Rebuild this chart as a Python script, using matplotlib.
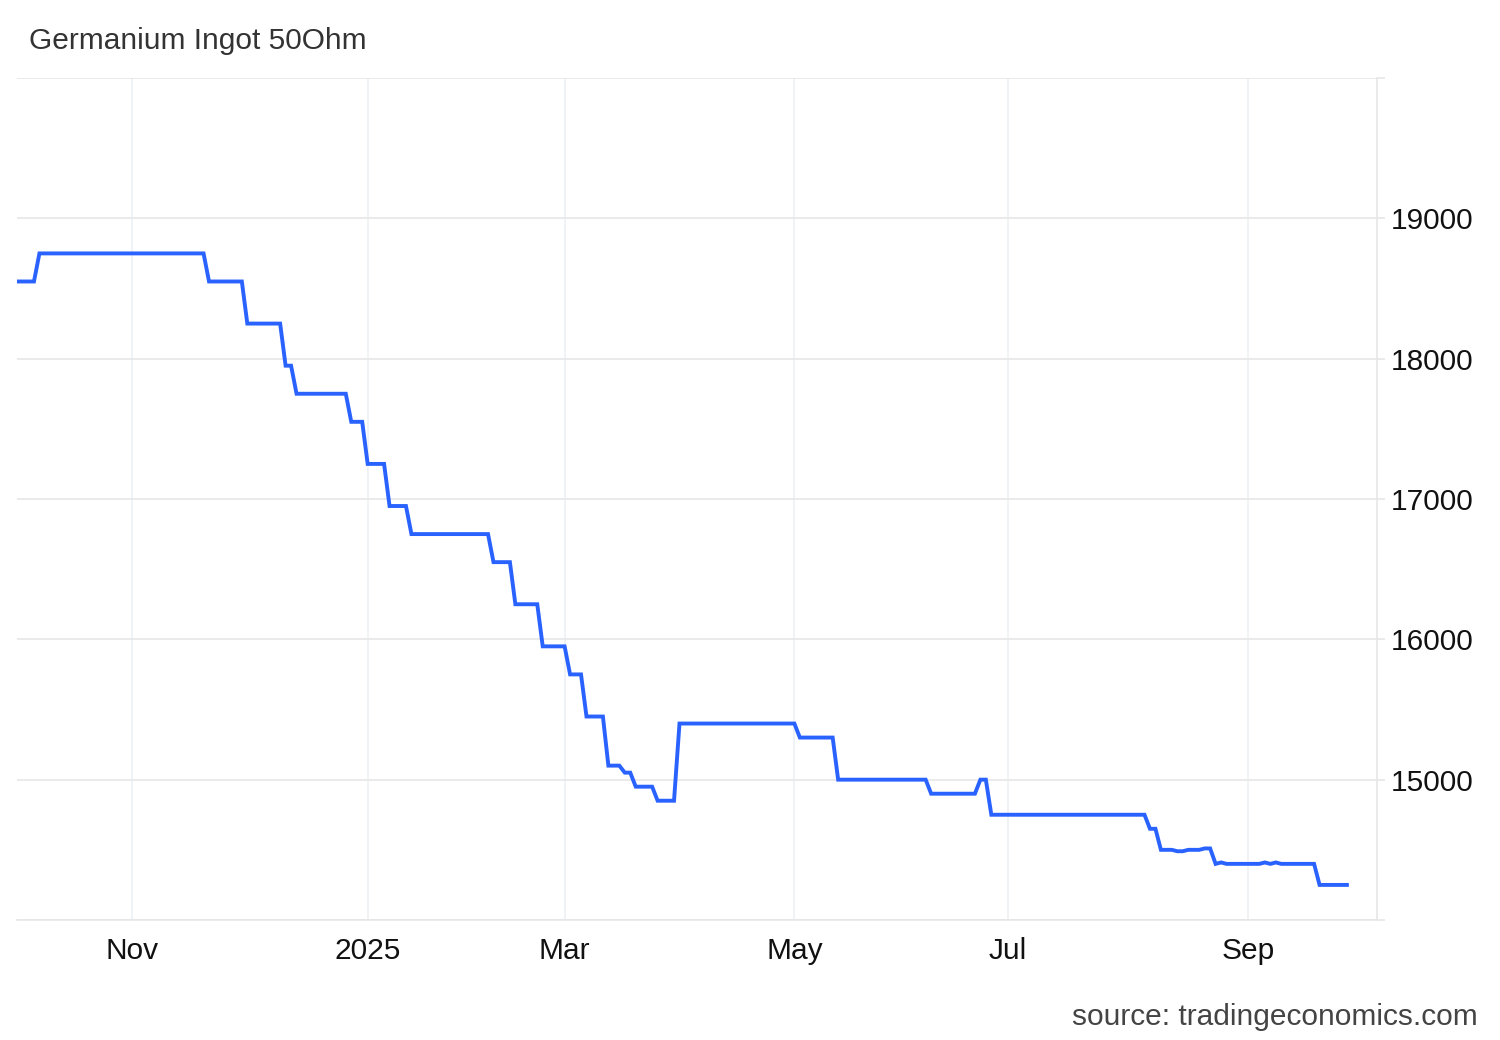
import numpy as np
import matplotlib
matplotlib.use("Agg")
import matplotlib.pyplot as plt

# chinese market holidays (weekdays only matter)
holidays = ['2024-10-01', '2024-10-02', '2024-10-03', '2024-10-04', '2024-10-07',
            '2025-01-01', '2025-01-28', '2025-01-29', '2025-01-30', '2025-01-31',
            '2025-02-03', '2025-02-04', '2025-04-04', '2025-05-01', '2025-05-02',
            '2025-05-05', '2025-06-02']

# price levels: first trading day of each level
level_dates = ['2024-09-26', '2024-10-09', '2024-11-21', '2024-12-02', '2024-12-11',
               '2024-12-13', '2024-12-27', '2025-01-02', '2025-01-08', '2025-01-14',
               '2025-02-12', '2025-02-18', '2025-02-25', '2025-03-04', '2025-03-07',
               '2025-03-13', '2025-03-18', '2025-03-20', '2025-03-26', '2025-04-01',
               '2025-05-07', '2025-05-16', '2025-06-11', '2025-06-24', '2025-06-26',
               '2025-08-06', '2025-08-08', '2025-08-13', '2025-08-15', '2025-08-20',
               '2025-08-22', '2025-08-25', '2025-08-26', '2025-09-04', '2025-09-05',
               '2025-09-08', '2025-09-09', '2025-09-18']
level_values = [18550, 18750, 18550, 18250, 17950,
                17750, 17550, 17250, 16950, 16750,
                16550, 16250, 15950, 15750, 15450,
                15100, 15050, 14950, 14850, 15400,
                15300, 15000, 14900, 15000, 14750,
                14650, 14500, 14490, 14500, 14510,
                14400, 14410, 14400, 14410, 14400,
                14410, 14400, 14250]
end_date = '2025-09-25'
start_date = level_dates[0]

tick_months = ['2024-11-01', '2025-01-01', '2025-03-01', '2025-05-01', '2025-07-01', '2025-09-01']
tick_labels = ['Nov', '2025', 'Mar', 'May', 'Jul', 'Sep']
y_ticks = [14000, 15000, 16000, 17000, 18000, 19000, 20000]


def tday(d):
    return int(np.busday_count(start_date, d, holidays=holidays))


idx = [tday(d) for d in level_dates] + [tday(end_date) + 1]
xs, ys = [], []
for i, v in enumerate(level_values):
    xs += [idx[i], idx[i + 1] - 1]
    ys += [v, v]

plt.rcParams['font.family'] = ['Liberation Sans', 'DejaVu Sans']

fig = plt.figure(figsize=(15, 10.4), dpi=100)
ax = fig.add_axes([17 / 1500, 1 - 920 / 1040, 1360 / 1500, 842 / 1040])

ax.plot(xs, ys, color='#2962ff', lw=2.8, solid_joinstyle='miter')

xt = [tday(np.busday_offset(m, 0, roll='forward', holidays=holidays)) for m in tick_months]
ax.set_xticks(xt)
ax.set_xticklabels(tick_labels)
ax.set_yticks(y_ticks)
ax.set_yticklabels(['' if t in (14000, 20000) else str(t) for t in y_ticks])
ax.set_xlim(-0.1, 248.5)
ax.set_ylim(14000, 20000)

ax.yaxis.tick_right()
ax.grid(axis='y', color='#e6e6e6', lw=1.2)
ax.grid(axis='x', color='#eef1f5', lw=1.2)
ax.tick_params(axis='y', length=6, width=1.2, color='#e6e6e6', pad=4, labelsize=21.5, labelcolor='#111111')
ax.tick_params(axis='x', length=0, pad=12.5, labelsize=21.5, labelcolor='#111111')
for s in ['top', 'left']:
    ax.spines[s].set_visible(False)
ax.spines['right'].set_color('#e6e6e6')
ax.spines['bottom'].set_color('#e6e6e6')
ax.spines['right'].set_linewidth(1.2)
ax.spines['bottom'].set_linewidth(1.2)

fig.text(29 / 1500, 1 - 41 / 1040, 'Germanium Ingot 50Ohm', ha='left', va='center',
         fontsize=21.5, color='#333333')
fig.text(1478 / 1500, 1 - 1017 / 1040, 'source: tradingeconomics.com', ha='right', va='center',
         fontsize=21.5, color='#444444')

fig.savefig('out.png', dpi=100, facecolor='white')
